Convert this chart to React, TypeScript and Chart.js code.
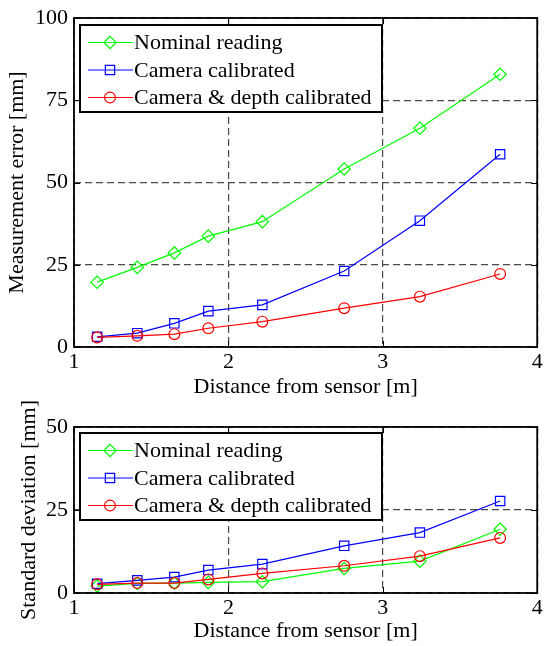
import React, { useEffect, useRef } from 'react';
import { Chart, registerables } from 'chart.js';

Chart.register(...registerables);

const distances = [1.15, 1.41, 1.65, 1.87, 2.22, 2.75, 3.24, 3.76];
const seriesLabels = ['Nominal reading', 'Camera calibrated', 'Camera & depth calibrated'];
const errNominal = [19.7, 24.2, 28.6, 33.7, 38.1, 54.1, 66.5, 82.9];
const errCamera = [3.1, 4.2, 7.2, 10.9, 12.8, 23.1, 38.4, 58.6];
const errDepth = [2.9, 3.4, 3.9, 5.7, 7.7, 11.8, 15.3, 22.2];
const sdNominal = [2.1, 2.9, 3.0, 3.2, 3.4, 7.4, 9.6, 19.2];
const sdCamera = [2.8, 3.8, 4.8, 6.9, 8.7, 14.2, 18.2, 27.7];
const sdDepth = [2.6, 3.0, 3.0, 4.1, 5.9, 8.2, 11.1, 16.6];
const xTicks = [1, 2, 3, 4];
const errTicks = [0, 25, 50, 75, 100];
const sdTicks = [0, 25, 50];
const xTitle = 'Distance from sensor [m]';
const errTitle = 'Measurement error [mm]';
const sdTitle = 'Standard deviation [mm]';

const FONT = '"Liberation Serif", "Times New Roman", serif';
const FS = 22;
const colors = ['#00ff00', '#0000ff', '#ff0000'];
const styles = ['rectRot', 'rect', 'circle'];
const radii = [6.2, 6.6, 5.4];

function drawMarker(ctx: CanvasRenderingContext2D, style: string, x: number, y: number, r: number) {
  ctx.beginPath();
  if (style === 'rectRot') {
    ctx.moveTo(x - r, y);
    ctx.lineTo(x, y - r);
    ctx.lineTo(x + r, y);
    ctx.lineTo(x, y + r);
    ctx.closePath();
  } else if (style === 'rect') {
    const s = Math.SQRT1_2 * r;
    ctx.rect(x - s, y - s, 2 * s, 2 * s);
  } else {
    ctx.arc(x, y, r, 0, Math.PI * 2);
  }
  ctx.stroke();
}

const framePlugin = {
  id: 'frameBox',
  afterDatasetsDraw(chart: any) {
    const { ctx, chartArea: a, scales } = chart;
    ctx.save();
    ctx.strokeStyle = '#000';
    ctx.lineWidth = 1;
    const tl = 6;
    const xs = scales.x;
    const ys = scales.y;
    ctx.beginPath();
    xs.ticks.forEach((t: any) => {
      const x = Math.round(xs.getPixelForValue(t.value)) + 0.5;
      ctx.moveTo(x, a.bottom);
      ctx.lineTo(x, a.bottom - tl);
      ctx.moveTo(x, a.top);
      ctx.lineTo(x, a.top + tl);
    });
    ys.ticks.forEach((t: any) => {
      const y = Math.round(ys.getPixelForValue(t.value)) + 0.5;
      ctx.moveTo(a.left, y);
      ctx.lineTo(a.left + tl, y);
      ctx.moveTo(a.right, y);
      ctx.lineTo(a.right - tl, y);
    });
    ctx.stroke();
    ctx.lineWidth = 1.8;
    ctx.strokeRect(a.left, a.top, a.right - a.left, a.bottom - a.top);
    ctx.restore();
  },
};

const legendPlugin = {
  id: 'boxLegend',
  afterDraw(chart: any, _args: any, opts: any) {
    const { ctx, chartArea: a } = chart;
    const bx = a.left + opts.dx;
    const by = a.top + opts.dy;
    const bw = 302;
    const bh = 87;
    ctx.save();
    ctx.fillStyle = '#fff';
    ctx.fillRect(bx, by, bw, bh);
    ctx.strokeStyle = '#000';
    ctx.lineWidth = 2;
    ctx.strokeRect(bx, by, bw, bh);
    ctx.font = FS + 'px ' + FONT;
    ctx.textBaseline = 'middle';
    ctx.textAlign = 'left';
    chart.data.datasets.forEach((ds: any, i: number) => {
      const y = by + 17.5 + i * 27.5;
      ctx.strokeStyle = ds.borderColor;
      ctx.lineWidth = 1.2;
      ctx.beginPath();
      ctx.moveTo(bx + 8, y);
      ctx.lineTo(bx + 53, y);
      ctx.stroke();
      drawMarker(ctx, ds.pointStyle, bx + 30, y, ds.pointRadius);
      ctx.fillStyle = '#000';
      ctx.fillText(ds.label, bx + 54, y + 1);
    });
    ctx.restore();
  },
};

function makeConfig(
  series: number[][],
  yMax: number,
  yTicks: number[],
  yTitle: string,
  yTitlePad: number,
  padTop: number,
  xAxisHeight: number,
  xTitlePad: number,
  legendDy: number
): any {
  const titleFont = { family: FONT, size: FS, lineHeight: 1.0 };
  return {
    type: 'line',
    data: {
      datasets: series.map((vals, i) => ({
        label: seriesLabels[i],
        data: distances.map((d, j) => ({ x: d, y: vals[j] })),
        borderColor: colors[i],
        backgroundColor: 'transparent',
        pointBackgroundColor: 'transparent',
        pointBorderColor: colors[i],
        pointStyle: styles[i],
        pointRadius: radii[i],
        pointBorderWidth: 1.2,
        borderWidth: 1.2,
        tension: 0,
        fill: false,
        order: 2 - i,
      })),
    },
    options: {
      animation: false,
      responsive: false,
      maintainAspectRatio: false,
      devicePixelRatio: 1,
      layout: { padding: { top: padTop, right: 3, left: 0, bottom: 0 } },
      plugins: {
        legend: { display: false },
        tooltip: { enabled: false },
        title: { display: false },
        boxLegend: { dx: 6, dy: legendDy },
      },
      scales: {
        x: {
          type: 'linear',
          min: 1,
          max: 4,
          afterBuildTicks: (s: any) => {
            s.ticks = xTicks.map((v) => ({ value: v }));
          },
          afterFit: (s: any) => {
            s.height = xAxisHeight;
            s.paddingLeft = 0;
            s.paddingRight = 0;
          },
          ticks: {
            color: '#000',
            font: { family: FONT, size: FS },
            padding: 2,
            maxRotation: 0,
            autoSkip: false,
          },
          grid: { color: '#4a4a4a', lineWidth: 1.2, drawTicks: false },
          border: { display: false, dash: [7, 4] },
          title: {
            display: true,
            text: xTitle,
            color: '#000',
            font: titleFont,
            padding: { top: 0, bottom: xTitlePad },
          },
        },
        y: {
          type: 'linear',
          min: 0,
          max: yMax,
          afterBuildTicks: (s: any) => {
            s.ticks = yTicks.map((v) => ({ value: v }));
          },
          afterFit: (s: any) => {
            s.width = 74;
            s.paddingTop = 0;
            s.paddingBottom = 0;
          },
          ticks: {
            color: '#000',
            font: { family: FONT, size: FS },
            padding: 6,
            autoSkip: false,
          },
          grid: { color: '#4a4a4a', lineWidth: 1.2, drawTicks: false },
          border: { display: false, dash: [7, 4] },
          title: {
            display: true,
            text: yTitle,
            color: '#000',
            font: titleFont,
            padding: { top: yTitlePad, bottom: 0 },
          },
        },
      },
    },
    plugins: [framePlugin, legendPlugin],
  };
}

function ChartCanvas({ top, height, config }: { top: number; height: number; config: any }) {
  const ref = useRef<HTMLCanvasElement | null>(null);
  useEffect(() => {
    if (!ref.current) return;
    const chart = new Chart(ref.current, config);
    return () => chart.destroy();
  }, [config]);
  return (
    <canvas
      ref={ref}
      width={545}
      height={height}
      style={{ position: 'absolute', left: 0, top, width: 545, height, display: 'block' }}
    />
  );
}

const topConfig = makeConfig([errNominal, errCamera, errDepth], 100, errTicks, errTitle, 6, 18, 51, 0, 7);
const bottomConfig = makeConfig([sdNominal, sdCamera, sdDepth], 50, sdTicks, sdTitle, 18.5, 29, 53, 4, 6);

export default function App() {
  return (
    <div style={{ position: 'absolute', left: 0, top: 0, width: 545, height: 646, background: '#fff', overflow: 'hidden' }}>
      <ChartCanvas top={0} height={398} config={topConfig} />
      <ChartCanvas top={398} height={248} config={bottomConfig} />
    </div>
  );
}
